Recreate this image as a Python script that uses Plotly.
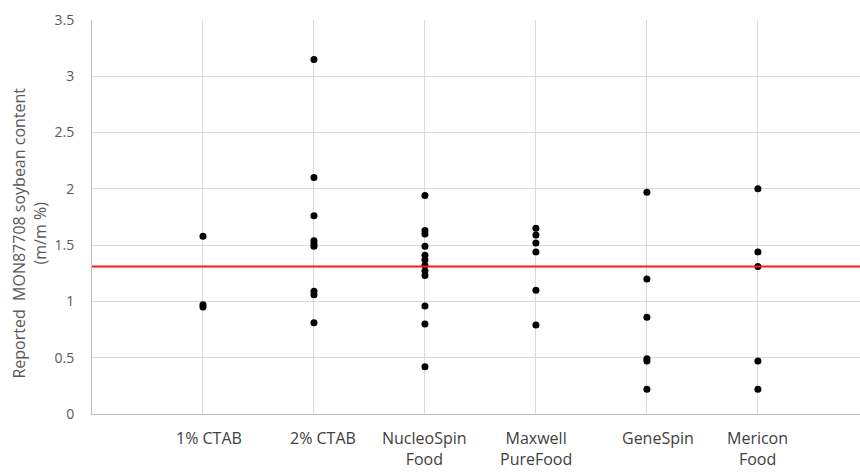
import plotly.graph_objects as go

categories = ["1% CTAB", "2% CTAB", "NucleoSpin<br>Food", "Maxwell<br>PureFood", "GeneSpin", "Mericon<br>Food"]
values = [
    [1.58, 0.97, 0.95],
    [3.15, 2.10, 1.76, 1.54, 1.51, 1.49, 1.09, 1.06, 0.81],
    [1.94, 1.63, 1.60, 1.49, 1.41, 1.37, 1.32, 1.27, 1.23, 0.96, 0.80, 0.42],
    [1.65, 1.59, 1.52, 1.44, 1.10, 0.79],
    [1.97, 1.20, 0.86, 0.49, 0.47, 0.22],
    [2.00, 1.44, 1.31, 0.47, 0.22],
]
reference_value = 1.31
y_ticks = [0, 0.5, 1, 1.5, 2, 2.5, 3, 3.5]
y_tick_labels = ["0", "0.5", "1", "1.5", "2", "2.5", "3", "3.5"]
y_title = "Reported  MON87708 soybean content<br>(m/m %)"

label_shift = [6, 9, 0, 0, 11, 0]

xs, ys = [], []
for i, vals in enumerate(values):
    for v in vals:
        xs.append(i + 1)
        ys.append(v)

fig = go.Figure()
fig.add_trace(go.Scatter(
    x=xs, y=ys, mode="markers",
    marker=dict(color="black", size=7),
    showlegend=False, hoverinfo="y",
))
fig.add_trace(go.Scatter(
    x=[0, 7], y=[reference_value, reference_value], mode="lines",
    line=dict(color="#ff1a1a", width=2),
    showlegend=False, hoverinfo="skip",
))

for i, cat in enumerate(categories):
    fig.add_annotation(
        x=i + 1, y=0, xref="x", yref="y", text=cat, showarrow=False,
        yanchor="top", yshift=-11, xshift=label_shift[i],
        font=dict(family="Open Sans, sans-serif", size=16, color="#404040"),
    )

fig.add_annotation(
    x=-0.081, y=0.46, xref="paper", yref="paper", text=y_title,
    showarrow=False, textangle=-90, xanchor="center", yanchor="middle",
    font=dict(family="Open Sans, sans-serif", size=16, color="#595959"),
)

fig.update_layout(
    width=860, height=474,
    margin=dict(l=92, r=0, t=20, b=60),
    plot_bgcolor="white", paper_bgcolor="white",
    font=dict(family="Open Sans, sans-serif", color="#595959"),
    xaxis=dict(
        range=[0, 6.92], tickvals=[1, 2, 3, 4, 5, 6], showticklabels=False,
        showgrid=True, gridcolor="#d9d9d9", gridwidth=1,
        zeroline=False, showline=True, linecolor="#bfbfbf", linewidth=1,
        ticks="", fixedrange=True,
    ),
    yaxis=dict(
        range=[0, 3.5], tickvals=y_ticks, ticktext=y_tick_labels,
        showgrid=True, gridcolor="#d9d9d9", gridwidth=1,
        zeroline=False, showline=True, linecolor="#bfbfbf", linewidth=1,
        ticks="outside", ticklen=14, tickcolor="rgba(0,0,0,0)",
        tickfont=dict(size=14, color="#595959"),
    ),
)

fig.write_html("out.html")
